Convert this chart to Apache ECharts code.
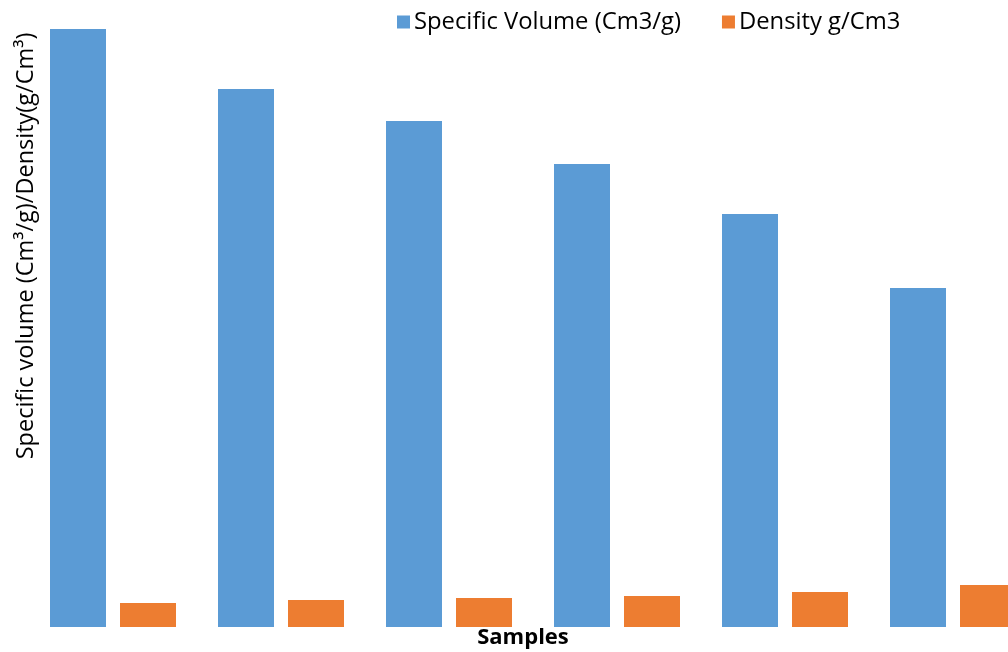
<!DOCTYPE html>
<html>
<head>
<meta charset="utf-8">
<script src="https://cdn.jsdelivr.net/npm/echarts@6/dist/echarts.min.js"></script>
<style>html,body{margin:0;padding:0;background:#fff}#c{width:1008px;height:652px}</style>
</head>
<body>
<div id="c"></div>
<script>
const categories = ['S1', 'S2', 'S3', 'S4', 'S5', 'S6'];
const specificVolume = [5.98, 5.38, 5.06, 4.63, 4.13, 3.39];
const density = [0.24, 0.27, 0.29, 0.31, 0.35, 0.42];
const seriesNames = ['Specific Volume (Cm3/g)', 'Density g/Cm3'];
const yTitle = 'Specific volume (Cm\u00B3/g)/Density(g/Cm\u00B3)';
const xTitle = 'Samples';

const chart = echarts.init(document.getElementById('c'), null, {renderer: 'canvas'});
const font = 'Open Sans';
chart.setOption({
  animation: false,
  textStyle: {fontFamily: font},
  grid: {left: 29, width: 1008, top: 27, bottom: 25, containLabel: false, outerBoundsMode: 'none'},
  legend: {
    top: 5, left: 392, itemWidth: 13, itemHeight: 13, itemGap: 41,
    icon: 'rect',
    textStyle: {fontFamily: font, fontSize: 23.8, color: '#000', padding: [0, 0, 0, -1]},
    data: seriesNames
  },
  xAxis: {
    type: 'category', data: categories,
    axisLine: {show: false}, axisTick: {show: false}, axisLabel: {show: false},
    name: xTitle, nameLocation: 'middle', nameGap: 0,
    nameTextStyle: {fontFamily: font, fontWeight: 'bold', fontSize: 22, color: '#000', padding: [0, 20, 0, 0]}
  },
  yAxis: {
    type: 'value', min: 0, max: 6,
    axisLine: {show: false}, axisTick: {show: false}, axisLabel: {show: false},
    splitLine: {show: false}
  },
  graphic: [{
    type: 'text', x: 26, y: 246, rotation: Math.PI / 2,
    style: {text: yTitle, fontFamily: font, fontSize: 23.5, fill: '#000', align: 'center', verticalAlign: 'middle'}
  }],
  series: [
    {name: seriesNames[0], type: 'bar', data: specificVolume, barWidth: 56, barGap: '25%',
      itemStyle: {color: '#5B9BD5'}},
    {name: seriesNames[1], type: 'bar', data: density, barWidth: 56, barGap: '25%',
      itemStyle: {color: '#ED7D31'}}
  ]
});
</script>
</body>
</html>
